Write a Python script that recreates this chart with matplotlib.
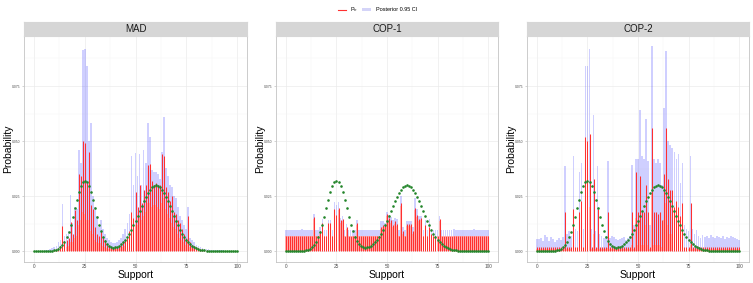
import matplotlib
matplotlib.use('Agg')
import matplotlib.pyplot as plt
import numpy as np
from matplotlib.lines import Line2D
from matplotlib.patches import Rectangle
from matplotlib.ticker import MultipleLocator

plt.rcParams['font.family'] = ['Liberation Sans', 'DejaVu Sans']

# ---------------- data (probabilities x 1000) ----------------
support = list(range(101))

truth = [0, 0, 0, 0, 0, 0, 0, 0.05, 0.1, 0.19,
         0.36, 0.63, 1.1, 1.8, 2.8, 4.3, 6.3, 8.9, 12.0, 15.6,
         19.4, 23.2, 26.7, 29.5, 31.4, 32.0, 31.4, 29.5, 26.7, 23.2,
         19.4, 15.6, 12.1, 9.0, 6.5, 4.5, 3.1, 2.3, 1.8, 1.6,
         1.7, 2.0, 2.5, 3.2, 4.1, 5.2, 6.5, 8.0, 9.7, 11.7,
         13.7, 15.9, 18.2, 20.5, 22.6, 24.7, 26.5, 28.0, 29.1, 29.8,
         30.0, 29.8, 29.1, 28.0, 26.5, 24.7, 22.6, 20.5, 18.2, 15.9,
         13.7, 11.7, 9.7, 8.0, 6.5, 5.2, 4.1, 3.1, 2.4, 1.8,
         1.3, 0.95, 0.68, 0.48, 0.33, 0.23, 0.15, 0.1, 0.07, 0.04,
         0.03, 0.02, 0.01, 0.01, 0, 0, 0, 0, 0, 0, 0]

mad_pn = [0, 0, 0, 0, 0, 0, 0, 0.1, 0.2, 0.3,
          0.5, 0.8, 1.5, 2.5, 11.4, 4.5, 5.0, 6.0, 13.3, 8.0,
          18.6, 14.0, 35.0, 34.0, 50.0, 49.0, 31.0, 45.0, 21.0, 19.0,
          11.0, 8.0, 7.0, 9.0, 6.0, 5.0, 3.0, 2.5, 2.0, 1.8,
          1.8, 2.0, 2.5, 3.0, 4.0, 5.0, 6.0, 9.0, 18.0, 15.0,
          27.0, 20.0, 30.0, 22.0, 28.0, 30.0, 39.0, 39.5, 32.0, 30.0,
          31.0, 30.0, 30.0, 44.0, 43.0, 29.0, 27.0, 23.0, 25.0, 18.0,
          17.0, 14.0, 13.0, 10.0, 8.0, 6.0, 16.0, 4.0, 3.0, 2.5,
          2.0, 1.5, 1.2, 1.0, 0.7, 0.5, 0.3, 0.2, 0.1, 0.1,
          0.1, 0.1, 0.1, 0.1, 0, 0, 0, 0, 0, 0, 0]
mad_lo = [0, 0, 0, 0, 0, 0, 0, 0, 0, 0,
          0, 0, 0.3, 0.5, 2.0, 1.5, 2.0, 2.5, 4.0, 4.0,
          6.0, 7.0, 12.0, 14.0, 18.0, 17.0, 14.0, 14.0, 9.0, 8.0,
          5.0, 4.0, 3.5, 3.5, 2.5, 2.0, 1.5, 1.2, 1.0, 0.9,
          0.9, 1.0, 1.2, 1.5, 2.0, 2.5, 3.0, 4.0, 8.0, 8.0,
          12.0, 12.0, 15.0, 14.0, 16.0, 18.0, 22.0, 22.0, 20.0, 21.0,
          21.0, 20.0, 19.0, 22.0, 24.0, 19.0, 17.0, 15.0, 13.0, 11.0,
          10.0, 8.0, 6.0, 5.0, 4.0, 3.0, 5.0, 2.0, 1.5, 1.0,
          0.7, 0.5, 0.3, 0.2, 0.1, 0.1, 0, 0, 0, 0,
          0, 0, 0, 0, 0, 0, 0, 0, 0, 0, 0]
mad_hi = [0.2, 0.2, 0.2, 0.2, 0.3, 0.3, 0.4, 0.5, 1.0, 1.5,
          2.0, 2.5, 4.0, 5.0, 21.4, 7.0, 8.0, 9.0, 25.5, 13.0,
          20.0, 19.0, 46.0, 40.0, 91.4, 92.0, 84.0, 50.0, 58.0, 25.0,
          20.0, 16.0, 11.0, 14.0, 10.0, 8.0, 6.0, 5.0, 4.0, 3.5,
          3.5, 4.0, 5.0, 6.0, 8.0, 10.0, 13.0, 17.0, 43.0, 30.0,
          44.5, 34.0, 44.0, 30.0, 46.0, 40.0, 58.0, 52.0, 37.0, 36.0,
          36.0, 35.0, 33.0, 45.0, 61.0, 38.0, 34.0, 30.0, 29.0, 25.0,
          24.0, 20.0, 16.0, 14.0, 12.0, 10.0, 20.0, 6.0, 5.0, 4.0,
          3.0, 2.5, 2.0, 1.5, 1.2, 1.0, 0.8, 0.7, 0.6, 0.5,
          0.5, 0.4, 0.4, 0.4, 0.3, 0.3, 0.3, 0.3, 0.3, 0.3, 0.3]

cop1_pn = [7.0] * 10 + \
          [7.0, 7.0, 7.0, 7.0, 15.5, 7.0, 7.0, 9.0, 12.6, 7.0,
           7.0, 13.0, 13.0, 7.0, 19.3, 16.6, 19.7, 14.0, 14.5, 7.0,
           11.0, 7.0, 7.0, 7.0, 7.0, 13.0, 7.0, 7.0, 7.0, 7.0,
           7.0, 7.0, 7.0, 7.0, 7.0, 7.0, 7.0, 11.0, 12.0, 12.0,
           16.8, 15.0, 14.0, 12.0, 13.5, 12.5, 7.0, 21.7, 9.0, 7.0,
           12.5, 12.5, 12.5, 9.0, 19.7, 16.6, 14.5, 15.0, 7.0, 12.0,
           7.0, 11.0, 8.0, 7.0, 7.0, 7.0, 14.5, 7.0, 7.0, 7.0] + [7.0] * 21
cop1_lo = [7.0] * 10 + \
          [7.0, 7.0, 7.0, 7.0, 14.5, 7.0, 7.0, 8.0, 11.6, 7.0,
           7.0, 12.0, 12.0, 7.0, 18.3, 15.6, 18.7, 13.0, 13.5, 7.0,
           10.0, 7.0, 7.0, 7.0, 7.0, 12.0, 7.0, 7.0, 7.0, 7.0,
           7.0, 7.0, 7.0, 7.0, 7.0, 7.0, 7.0, 10.0, 11.0, 11.0,
           15.8, 14.0, 13.0, 11.0, 12.5, 11.5, 7.0, 20.7, 8.0, 7.0,
           11.5, 11.5, 11.5, 8.0, 18.7, 15.6, 13.5, 14.0, 7.0, 11.0,
           7.0, 10.0, 7.0, 7.0, 7.0, 7.0, 13.5, 7.0, 7.0, 7.0] + [7.0] * 21
cop1_hi = [9.8, 9.6, 9.8, 9.7, 9.8, 9.8, 9.6, 9.8, 9.9, 9.8,
           9.7, 9.8, 9.8, 9.6, 17.0, 9.6, 9.8, 11.0, 14.5, 9.8,
           9.7, 14.3, 14.3, 9.8, 22.3, 21.0, 22.3, 15.0, 16.0, 9.7,
           12.5, 9.8, 9.6, 9.8, 9.7, 14.3, 9.8, 9.8, 9.7, 9.8,
           9.8, 9.6, 9.8, 9.8, 9.8, 9.7, 9.8, 13.6, 13.5, 13.0,
           18.0, 16.5, 15.5, 14.0, 15.0, 14.5, 9.8, 24.9, 11.0, 9.8,
           13.5, 13.5, 13.5, 11.0, 24.3, 19.0, 16.0, 16.0, 9.8, 14.0,
           9.7, 14.5, 10.0, 9.8, 9.8, 9.8, 16.0, 9.8, 9.7, 9.8,
           9.8, 9.6, 9.8, 9.9, 9.7, 9.8, 9.6, 9.8, 9.8, 9.7,
           9.8, 9.6, 9.8, 9.9, 9.8, 9.7, 9.8, 9.6, 9.8, 9.8, 9.7]

cop2_pn = [1.7] * 10 + \
          [1.7, 1.7, 1.7, 1.7, 18.0, 1.7, 1.7, 1.7, 19.0, 1.7,
           1.7, 18.0, 23.0, 1.7, 52.0, 50.0, 53.0, 1.7, 33.0, 1.7,
           19.0, 1.7, 1.7, 1.7, 1.7, 18.0, 1.7, 1.7, 1.7, 1.7,
           1.7, 1.7, 1.7, 1.7, 1.7, 1.7, 1.7, 18.0, 1.7, 36.0,
           18.0, 34.0, 18.0, 18.0, 30.0, 18.0, 1.7, 56.0, 18.0, 18.0,
           17.0, 18.0, 14.0, 35.0, 56.0, 33.0, 28.0, 28.0, 20.0, 23.0,
           20.0, 16.0, 22.0, 1.7, 1.7, 1.7, 22.0, 1.7, 1.7, 1.7] + [1.7] * 21
cop2_lo = [1.0] * 10 + \
          [1.0, 1.0, 1.0, 1.0, 1.5, 1.0, 1.0, 1.0, 1.5, 1.0,
           1.0, 1.5, 3.0, 1.0, 20.0, 19.0, 20.0, 1.0, 8.0, 1.0,
           1.5, 1.0, 1.0, 1.0, 1.0, 1.5, 1.0, 1.0, 1.0, 1.0,
           1.0, 1.0, 1.0, 1.0, 1.0, 1.0, 1.0, 3.0, 1.0, 15.0,
           3.0, 14.0, 3.0, 3.0, 12.0, 3.0, 1.0, 26.0, 3.0, 3.0,
           3.0, 3.0, 2.0, 14.0, 22.0, 12.0, 8.0, 8.0, 3.0, 5.0,
           3.0, 2.0, 3.0, 1.0, 1.0, 1.0, 3.0, 1.0, 1.0, 1.0] + [1.0] * 21
cop2_hi = [5.5, 5.5, 6.0, 4.5, 7.5, 6.5, 4.5, 6.5, 5.5, 4.0,
           5.0, 6.0, 5.0, 6.5, 38.6, 8.0, 9.0, 7.0, 43.0, 10.0,
           9.0, 36.0, 40.0, 10.0, 84.0, 84.0, 92.0, 10.0, 62.0, 9.0,
           38.6, 8.0, 7.0, 6.0, 7.0, 41.0, 6.0, 7.0, 6.5, 5.5,
           5.0, 5.5, 6.0, 6.5, 5.0, 6.0, 7.0, 39.0, 12.0, 42.0,
           42.0, 64.0, 43.0, 42.0, 60.0, 41.0, 12.0, 93.0, 42.0, 40.0,
           42.0, 40.0, 30.0, 65.0, 91.0, 50.0, 48.0, 47.0, 45.0, 42.0,
           44.0, 31.0, 40.0, 12.0, 10.0, 9.0, 43.0, 10.0, 8.0, 9.5,
           7.0, 6.0, 7.5, 6.5, 7.0, 6.0, 7.5, 6.5, 6.0, 7.0,
           6.5, 6.0, 7.0, 5.5, 6.5, 6.0, 7.0, 6.5, 6.0, 5.5, 5.0]

panel_titles = ["MAD", "COP-1", "COP-2"]
x_ticks = [0, 25, 50, 75, 100]
y_ticks = [0.0, 0.025, 0.05, 0.075]
y_tick_labels = ["0.000", "0.025", "0.050", "0.075"]
legend_labels = [r"P$_n$", "Posterior 0.95 CI"]

# ---------------- layout (pixels) ----------------
W, H = 753, 283
fig = plt.figure(figsize=(W / 100, H / 100), dpi=100)
panel_lr = [(24, 247), (276, 498), (527, 749)]
p_top, p_bot, s_top = 36, 262, 22

RED = '#FF3030'
PINK = (1.0, 0.0, 0.0, 0.32)
LAV = (0.15, 0.15, 1.0, 0.22)
GREEN = '#23852A'

data = [(mad_pn, mad_lo, mad_hi), (cop1_pn, cop1_lo, cop1_hi), (cop2_pn, cop2_lo, cop2_hi)]
xs = np.array(support)
tr = np.array(truth) / 1000.0

for (title, (pn, lo, hi), (l, r)) in zip(panel_titles, data, panel_lr):
    pn = np.array(pn) / 1000.0
    lo = np.array(lo) / 1000.0
    hi = np.array(hi) / 1000.0
    ax = fig.add_axes([l / W, 1 - p_bot / H, (r - l) / W, (p_bot - p_top) / H])
    ax.set_facecolor('white')
    ax.bar(xs, lo, width=0.85, color=PINK, linewidth=0, zorder=2)
    ax.bar(xs, hi - lo, bottom=lo, width=0.85, color=LAV, linewidth=0, zorder=3)
    ax.vlines(xs, 0, pn, color=RED, lw=0.75, zorder=4)
    ax.scatter(xs, tr, s=3.5, color=GREEN, linewidths=0, zorder=5)
    ax.set_xlim(-4.95, 104.95)
    ax.set_ylim(-0.0049, 0.0977)
    ax.set_xticks(x_ticks)
    ax.set_xticklabels([str(t) for t in x_ticks])
    ax.set_yticks(y_ticks)
    ax.set_yticklabels(y_tick_labels)
    ax.xaxis.set_minor_locator(MultipleLocator(12.5))
    ax.yaxis.set_minor_locator(MultipleLocator(0.0125))
    ax.grid(which='major', color='#EBEBEB', lw=0.5, zorder=0)
    ax.grid(which='minor', color='#F4F4F4', lw=0.35, zorder=0)
    ax.set_axisbelow(True)
    ax.tick_params(axis='x', which='major', labelsize=3.4, length=1.0, width=0.4,
                   color='#B3B3B3', labelcolor='#4D4D4D', pad=0.6)
    ax.tick_params(axis='y', which='major', labelsize=2.4, length=1.2, width=0.4,
                   color='#B3B3B3', labelcolor='#4D4D4D', pad=1.2)
    ax.tick_params(which='minor', length=0)
    for sp in ax.spines.values():
        sp.set_color('#C4C4C4')
        sp.set_linewidth(0.6)
    # strip
    sax = fig.add_axes([l / W, 1 - p_top / H, (r - l) / W, (p_top - s_top) / H])
    sax.set_facecolor('#D6D6D6')
    sax.set_xticks([]); sax.set_yticks([])
    for sp in sax.spines.values():
        sp.set_color('#D6D6D6')
    sax.text(0.5, 0.5, title, ha='center', va='center', fontsize=7, color='#1A1A1A',
             transform=sax.transAxes)
    # axis titles
    fig.text(((l + r) / 2) / W, 1 - 275.5 / H, "Support", ha='center', va='center', fontsize=7.5)
    fig.text((l - 16) / W, 1 - ((p_top + p_bot) / 2) / H, "Probability", ha='center', va='center',
             rotation=90, fontsize=7.5)

# legend
ly = 1 - 9.5 / H
fig.add_artist(Line2D([338 / W, 346 / W], [ly, ly], color=RED, lw=0.8))
fig.text(350 / W, ly, legend_labels[0], ha='left', va='center', fontsize=4)
fig.add_artist(Rectangle((362 / W, 1 - 11 / H), 9 / W, 3 / H, color='#D4D4F8', lw=0))
fig.text(376 / W, ly, legend_labels[1], ha='left', va='center', fontsize=4)

fig.savefig('out.png', dpi=100)
